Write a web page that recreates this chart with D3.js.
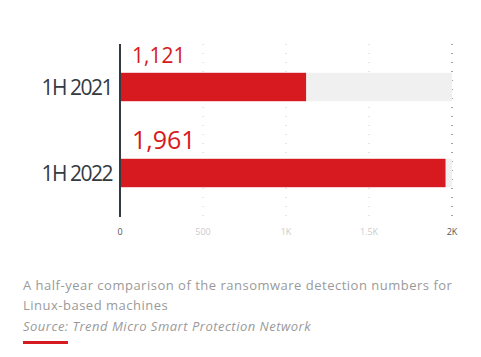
<!DOCTYPE html>
<html><head><meta charset="utf-8">
<script src="https://cdn.jsdelivr.net/npm/d3@7"></script>
<style>
html,body{margin:0;padding:0;background:#fff;}
svg{display:block;}
</style></head>
<body>
<svg id="c" width="481" height="357"></svg>
<script>
const categories = ["1H 2021", "1H 2022"];
const values = [1121, 1961];
const valueLabels = ["1,121", "1,961"];
const tickValues = [0, 500, 1000, 1500, 2000];
const tickLabels = ["0", "500", "1K", "1.5K", "2K"];
const captionLines = ["A half-year comparison of the ransomware detection numbers for", "Linux-based machines"];
const sourceText = "Source: Trend Micro Smart Protection Network";

const svg = d3.select("#c");
const red = "#d71920";
const x = d3.scaleLinear().domain([0, 2000]).range([120, 452]);
const y = d3.scaleBand().domain(categories).range([44, 216]).paddingInner(0.67).paddingOuter(0.335);

// gridlines (dotted)
svg.append("g").selectAll("line").data(tickValues.filter(d => d > 0)).join("line")
  .attr("x1", d => x(d)).attr("x2", d => x(d))
  .attr("y1", 44).attr("y2", 217)
  .attr("stroke", d => d === 2000 ? "#444" : "#ccc")
  .attr("stroke-width", 1)
  .attr("stroke-dasharray", "1,8");

// background bars
svg.append("g").selectAll("rect").data(categories).join("rect")
  .attr("x", x(0)).attr("y", d => y(d))
  .attr("width", x(2000) - x(0)).attr("height", y.bandwidth())
  .attr("fill", "#f0f0f0");

// value bars
svg.append("g").selectAll("rect").data(values).join("rect")
  .attr("x", x(0)).attr("y", (d, i) => y(categories[i]))
  .attr("width", d => x(d) - x(0)).attr("height", y.bandwidth())
  .attr("fill", red);

// axis line
svg.append("line").attr("x1", 120).attr("x2", 120).attr("y1", 44).attr("y2", 217)
  .attr("stroke", "#333a42").attr("stroke-width", 2);

// category labels
svg.append("g").selectAll("text").data(categories).join("text")
  .attr("x", 112).attr("y", d => y(d) + y.bandwidth() / 2 + 7.5)
  .attr("text-anchor", "end")
  .attr("font-family", "Open Sans").attr("font-size", 21)
  .attr("letter-spacing", "-1.5")
  .attr("fill", "#333a42")
  .text(d => d);

// value labels
const vSizes = [21, 25];
svg.append("g").selectAll("text").data(valueLabels).join("text")
  .attr("x", 132).attr("y", (d, i) => y(categories[i]) - 10)
  .attr("font-family", "Open Sans").attr("font-size", (d, i) => vSizes[i])
  .attr("fill", red)
  .text(d => d);

// tick labels
const tickG = svg.append("g").attr("transform", "translate(0,235)");
tickG.selectAll("text").data(tickValues).join("text")
  .attr("x", d => x(d)).attr("y", 0)
  .attr("text-anchor", "middle")
  .attr("font-family", "Open Sans").attr("font-size", 9)
  .attr("fill", (d, i) => (i === 0 || i === tickValues.length - 1) ? "#555" : "#ccc")
  .text((d, i) => tickLabels[i]);

// caption
svg.append("g").selectAll("text").data(captionLines).join("text")
  .attr("x", 23).attr("y", (d, i) => 290 + i * 20)
  .attr("font-family", "Open Sans").attr("font-size", 13)
  .attr("letter-spacing", "0.5")
  .attr("fill", "#9a9a9a")
  .text(d => d);
svg.append("text").attr("x", 23).attr("y", 331)
  .attr("font-family", "Open Sans").attr("font-size", 13).attr("font-style", "italic")
  .attr("letter-spacing", "0.5")
  .attr("fill", "#9a9a9a").text(sourceText);
svg.append("rect").attr("x", 23).attr("y", 341).attr("width", 45).attr("height", 3).attr("fill", red);
</script>
</body></html>
